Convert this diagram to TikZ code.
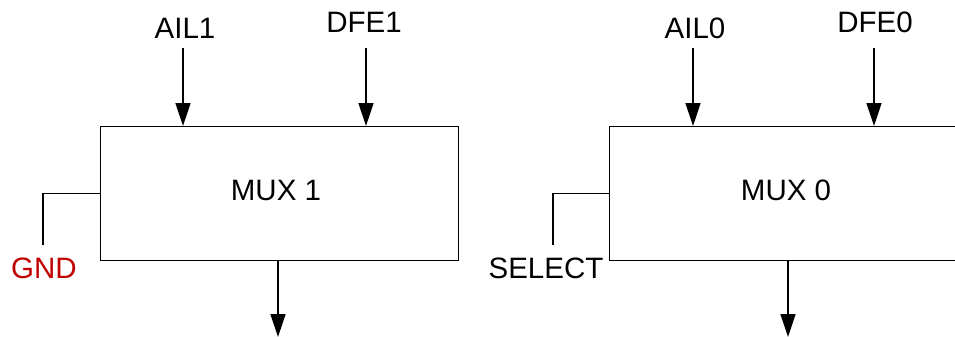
\documentclass[tikz,border=0pt]{standalone}
\usepackage{fontspec}
\setmainfont{Liberation Sans}
\usetikzlibrary{arrows.meta}
\definecolor{gndred}{RGB}{192,0,0}
\begin{document}
\begin{tikzpicture}[x=1pt,y=-1pt,
  wire/.style={line width=1.4pt},
  sig/.style={wire,-{Triangle[width=15pt,length=23pt]}},
  muxbox/.style={draw,line width=1.4pt,minimum width=358pt,minimum height=134pt,inner sep=0pt,anchor=north west},
  lbl/.style={font=\fontsize{29.5}{31}\selectfont,anchor=base,inner sep=0pt}]
\useasboundingbox (0,0) rectangle (955,337);
% MUX 1
\node[muxbox] (mux1) at (100,126) {};
\node[lbl] (mux1t) at (276,200) {MUX 1};
\node[lbl] (ail1) at (185,38) {AIL1};
\node[lbl] (dfe1) at (364,33) {DFE1};
\node[lbl,text=gndred] (gnd) at (44,278) {GND};
\coordinate (ail1s) at (183,48);
\coordinate (dfe1s) at (366,48);
\coordinate (out1) at (278,337);
\coordinate (gnde) at (43,245);
\draw[sig] (ail1s) -- (ail1s |- mux1.north);
\draw[sig] (dfe1s) -- (dfe1s |- mux1.north);
\draw[sig] (out1 |- mux1.south) -- (out1);
\draw[wire] (mux1.west) -| (gnde);
% MUX 0
\node[muxbox] (mux0) at (609,126) {};
\node[lbl] (mux0t) at (786,200) {MUX 0};
\node[lbl] (ail0) at (695,38) {AIL0};
\node[lbl] (dfe0) at (875,33) {DFE0};
\node[lbl] (sel) at (546,278) {SELECT};
\coordinate (ail0s) at (693,48);
\coordinate (dfe0s) at (874,48);
\coordinate (out0) at (788,337);
\coordinate (sele) at (553,245);
\draw[sig] (ail0s) -- (ail0s |- mux0.north);
\draw[sig] (dfe0s) -- (dfe0s |- mux0.north);
\draw[sig] (out0 |- mux0.south) -- (out0);
\draw[wire] (mux0.west) -| (sele);
\end{tikzpicture}
\end{document}
